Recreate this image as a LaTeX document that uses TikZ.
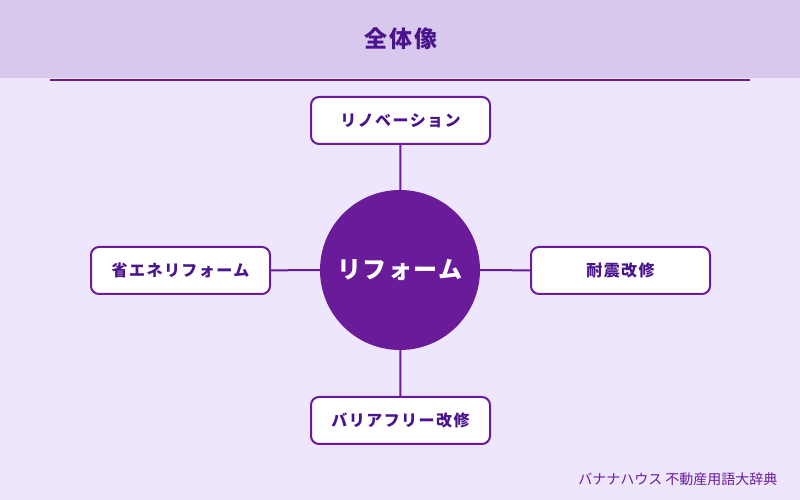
\documentclass[tikz,border=0pt]{standalone}
\usepackage{fontspec}
\setmainfont{Noto Sans CJK JP}
\newfontfamily\boxfont[LetterSpace=9]{Noto Sans CJK JP}
\newfontfamily\titlefont[LetterSpace=9]{Noto Sans CJK JP}
\newfontfamily\hubfont[LetterSpace=6]{Noto Sans CJK JP}
\definecolor{bgc}{HTML}{EDE6FD}
\definecolor{headc}{HTML}{D9C8EE}
\definecolor{linec}{HTML}{6A1B9A}
\definecolor{textc}{HTML}{4A148C}
\tikzset{
  itembox/.style={draw=linec, line width=2pt, fill=white, rounded corners=8pt,
    minimum width=179pt, minimum height=47pt, inner sep=0pt,
    text=textc, font=\boxfont\bfseries\fontsize{16pt}{18pt}\selectfont},
  conn/.style={draw=linec, line width=2pt},
  hub/.style={circle, fill=linec, minimum size=160pt, inner sep=0pt,
    text=white, font=\hubfont\bfseries\fontsize{24pt}{26pt}\selectfont}
}
\begin{document}
\begin{tikzpicture}[x=1pt,y=1pt]
\useasboundingbox (0,0) rectangle (800,500);
\fill[bgc] (0,0) rectangle (800,500);
\fill[headc] (0,500) rectangle (800,422);
\node[text=textc, font=\titlefont\bfseries\fontsize{23pt}{25pt}\selectfont] (title) at (401,461) {全体像};
\coordinate (hl) at (50,420);
\coordinate (hr) at (750,420);
\draw[conn] (hl) -- (hr);
\node[hub] (c) at (400,230) {リフォーム};
\node[itembox] (t) at (400.5,379.5) {リノベーション};
\node[itembox] (l) at (180.5,229.5) {省エネリフォーム};
\node[itembox] (r) at (620.5,229.5) {耐震改修};
\node[itembox] (b) at (400.5,79.5) {バリアフリー改修};
\draw[conn] (t) -- (c);
\draw[conn] (l) -- (c);
\draw[conn] (r) -- (c);
\draw[conn] (b) -- (c);
\node[anchor=east, text=linec, font=\fontsize{14pt}{16pt}\selectfont] (foot) at (781,21) {バナナハウス 不動産用語大辞典};
\end{tikzpicture}
\end{document}
